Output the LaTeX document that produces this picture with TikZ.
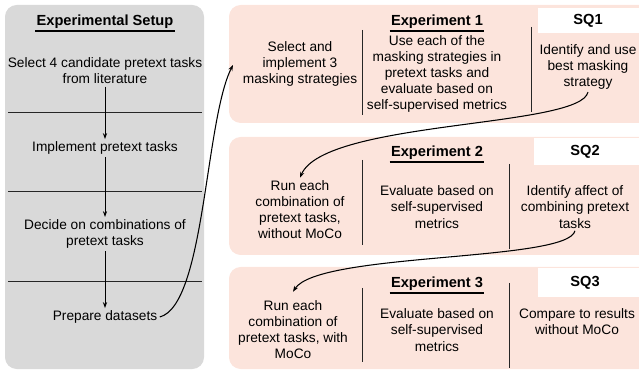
\documentclass[tikz,border=0pt]{standalone}
\usepackage{fontspec}
\setmainfont{Liberation Sans}
\usetikzlibrary{arrows.meta}
\definecolor{pinkbg}{RGB}{252,228,220}
\definecolor{greybg}{RGB}{217,217,217}
\begin{document}
\begin{tikzpicture}[x=0.03cm,y=-0.03cm,>={Stealth[length=5pt,width=3.6pt]},
  txt/.style={align=center,font=\fontsize{11.7}{13.8}\selectfont,inner sep=2pt},
  ttl/.style={font=\fontsize{12.5}{15}\selectfont\bfseries,inner sep=1pt},
  panel/.style={rounded corners=10pt},
  rule/.style={line width=0.7pt,black!85},
  link/.style={->,line width=0.9pt}]
\useasboundingbox (0,0) rectangle (639,371); \clip (0,0) rectangle (639,371);
\fill[greybg,panel] (5,5) rectangle (204,369);
\fill[pinkbg,panel] (229,5) rectangle (660,123); \fill[pinkbg,panel] (229,137) rectangle (660,255);
\fill[pinkbg,panel] (229,267) rectangle (660,369);
\fill[white] (538,8) rectangle (650,33); \fill[white] (534,138) rectangle (650,165); \fill[white] (538,268) rectangle (650,297);
\node[ttl] (setup) at (105,22) {Experimental Setup};
\node[txt] (s1) at (105,71) {Select 4 candidate pretext tasks\\from literature};
\node[txt] (s2) at (105,148) {Implement pretext tasks};
\node[txt] (s3) at (105,234) {Decide on combinations of\\pretext tasks};
\node[txt] (s4) at (105,317) {Prepare datasets};
\foreach \yy in {112,191,281} \draw[rule] (8,\yy) -- (202,\yy);
\draw[->,line width=0.7pt] (s1) -- (s2); \draw[->,line width=0.7pt] (s2) -- (s3); \draw[->,line width=0.7pt] (s3) -- (s4);
\node[ttl] (exp1) at (437,22) {Experiment 1}; \node[ttl] (sq1) at (588,21) {SQ1};
\node[txt] (e11) at (300,64) {Select and\\implement 3\\masking strategies};
\node[txt] (e12) at (437,74) {Use each of the\\masking strategies in\\pretext tasks and\\evaluate based on\\self-supervised metrics};
\node[txt] (e13) at (588,67) {Identify and use\\best masking\\strategy};
\draw[rule] (362,30) -- (362,115); \draw[rule] (531,27) -- (531,112);
\node[ttl] (exp2) at (437,153) {Experiment 2}; \node[ttl] (sq2) at (585,152) {SQ2};
\node[txt] (e21) at (300,209.5) {Run each\\combination of\\pretext tasks,\\without MoCo};
\node[txt] (e22) at (437,207) {Evaluate based on\\self-supervised\\metrics};
\node[txt] (e23) at (575,207) {Identify affect of\\combining pretext\\tasks};
\draw[rule] (362,160) -- (362,245); \draw[rule] (509,164) -- (509,249);
\node[ttl] (exp3) at (437,284) {Experiment 3}; \node[ttl] (sq3) at (585,283) {SQ3};
\node[txt] (e31) at (293,329.5) {Run each\\combination of\\pretext tasks, with\\MoCo};
\node[txt] (e32) at (437,330) {Evaluate based on\\self-supervised\\metrics};
\node[txt] (e33) at (577,321.5) {Compare to results\\without MoCo};
\draw[rule] (362,288) -- (362,362); \draw[rule] (509,283) -- (509,368);
\foreach \tt in {setup,exp1,exp2,exp3} \draw[line width=1.2pt] ([yshift=-0.6pt]\tt.south west) -- ([yshift=-0.6pt]\tt.south east);
\coordinate (e11in) at (233,65);
\draw[link] (s4.east) .. controls (205,305) and (205,120) .. (e11in);
\draw[link] (e13.south) .. controls (580,128) and (325,120) .. (e21.north);
\draw[link] (e23.south) .. controls (568,262) and (318,252) .. ([yshift=5pt]e31.north);
\end{tikzpicture}
\end{document}
